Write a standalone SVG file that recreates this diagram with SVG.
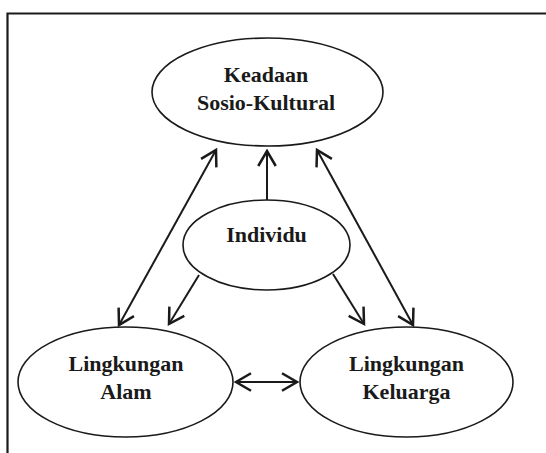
<svg xmlns="http://www.w3.org/2000/svg" width="546" height="453" viewBox="0 0 546 453">
<style>
.node ellipse{fill:#fff;stroke:#1a1a1a;stroke-width:1.6}
.node text{font-family:"Liberation Serif","Times New Roman",serif;font-weight:bold;font-size:22px;fill:#1a1a1a;text-anchor:middle}
.conn line{stroke:#1a1a1a;stroke-width:2;fill:none}
</style>
<defs>
<marker id="ah" markerUnits="userSpaceOnUse" markerWidth="20" markerHeight="20" viewBox="-14 -8 16 16" refX="0" refY="0" orient="auto-start-reverse">
<path d="M-12,-7 L0,0 L-12,7" fill="none" stroke="#1a1a1a" stroke-width="2"/>
</marker>
</defs>
<rect width="546" height="453" fill="#fff"/>
<path d="M7.5,453 V13.5 H546" fill="none" stroke="#1a1a1a" stroke-width="2.2"/>
<g class="conn">
<line x1="267" y1="200" x2="267" y2="151" marker-end="url(#ah)"/>
<line x1="119" y1="325" x2="216" y2="150" marker-start="url(#ah)" marker-end="url(#ah)"/>
<line x1="413" y1="325" x2="317" y2="150" marker-start="url(#ah)" marker-end="url(#ah)"/>
<line x1="199" y1="275" x2="169" y2="324" marker-end="url(#ah)"/>
<line x1="333" y1="274" x2="364" y2="324" marker-end="url(#ah)"/>
<line x1="236" y1="382" x2="297" y2="382" marker-start="url(#ah)" marker-end="url(#ah)"/>
</g>
<g id="sosio" class="node">
<ellipse cx="267.5" cy="92" rx="115.5" ry="54"/>
<text x="266" y="82">Keadaan</text>
<text x="266" y="110">Sosio-Kultural</text>
</g>
<g id="individu" class="node">
<ellipse cx="266.5" cy="245" rx="83.5" ry="45"/>
<text x="266.5" y="242">Individu</text>
</g>
<g id="alam" class="node">
<ellipse cx="125.5" cy="382" rx="107.5" ry="55"/>
<text x="126" y="370.5">Lingkungan</text>
<text x="126" y="399">Alam</text>
</g>
<g id="keluarga" class="node">
<ellipse cx="406.5" cy="382" rx="106.5" ry="55"/>
<text x="406.5" y="370.5">Lingkungan</text>
<text x="406.5" y="399">Keluarga</text>
</g>
</svg>
